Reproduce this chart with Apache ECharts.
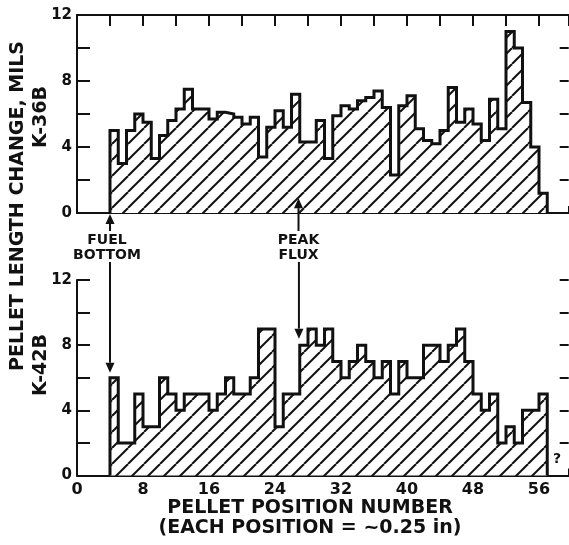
<!DOCTYPE html>
<html><head><meta charset="utf-8">
<script src="https://cdn.jsdelivr.net/npm/echarts@6/dist/echarts.min.js"></script>
<style>html,body{margin:0;padding:0;background:#fff}#c{width:569px;height:545px}</style>
</head><body><div id="c"></div>
<script>
// ---- data ----
const firstPosition = 4;
const k36b = [5.0,3.0,5.0,6.0,5.5,3.3,4.7,5.6,6.3,7.5,6.3,6.3,5.7,6.1,6.0,5.8,5.4,5.8,3.4,5.2,6.2,5.2,7.2,4.3,4.3,5.6,3.3,5.9,6.5,6.3,6.8,7.0,7.4,6.4,2.3,6.5,7.1,5.1,4.4,4.2,5.0,7.6,5.5,6.3,5.4,4.4,6.9,5.1,11.0,10.0,6.7,4.0,1.2];
const k42b = [6,2,2,5,3,3,6,5,4,5,5,5,4,5,6,5,5,6,9,9,3,5,5,8,9,8,9,7,6,7,8,7,6,7,5,7,6,6,8,8,7,8,9,7,5,4,5,2,3,2,4,4,5];
const xTickLabels = [0,8,16,24,32,40,48,56];
const yTickLabels = [0,4,8,12];
const fuelBottomPosition = 4;
const peakFluxPosition = 27;

// ---- helpers ----
function stepPoints(vals){
  const pts = [[firstPosition, 0]];
  vals.forEach((v,i)=>pts.push([firstPosition+i, v]));
  pts.push([firstPosition+vals.length, 0]);
  return pts;
}
function hatchCanvas(){
  const s = 16, c = document.createElement('canvas');
  c.width = s; c.height = s;
  const g = c.getContext('2d');
  g.fillStyle = '#fff'; g.fillRect(0,0,s,s);
  g.strokeStyle = '#111'; g.lineWidth = 2;
  [-s,0,s].forEach(o=>{ g.beginPath(); g.moveTo(o, s); g.lineTo(o+s, 0); g.stroke(); });
  return c;
}
const hatch = {image: hatchCanvas(), repeat: 'repeat'};
const FONT = '"DejaVu Sans", "Liberation Sans", sans-serif';
const black = '#111';

const chart = echarts.init(document.getElementById('c'));
const XMAX = 59.6;
function xAxisBase(grid, pos, showLabel){
  return {
    type:'value', gridIndex:grid, position:pos, min:0, max:XMAX, interval:4,
    axisLine:{show:true, onZero:false, lineStyle:{color:black, width:2}},
    axisTick:{show:true, inside:true, length: pos==='top'?11:7, lineStyle:{color:black, width:2}},
    axisLabel:{show:showLabel, color:black, fontFamily:FONT, fontWeight:'bold', fontSize:16, margin:6,
      formatter: v => xTickLabels.includes(v) ? String(v) : ''},
    splitLine:{show:false}
  };
}
function yAxisBase(grid, pos){
  const left = pos==='left';
  return {
    type:'value', gridIndex:grid, position:pos, min:0, max:12, interval:2,
    axisLine:{show:left, onZero:false, lineStyle:{color:black, width:2}},
    axisTick:{show:true, inside:true, length: left?13:9, lineStyle:{color:black, width:2}},
    axisLabel:{show:left, color:black, fontFamily:FONT, fontWeight:'bold', fontSize:15, margin:5,
      formatter: v => yTickLabels.includes(v) ? String(v) : ''},
    splitLine:{show:false}
  };
}
function seriesFor(vals, xi, yi){
  return {
    type:'line', xAxisIndex:xi, yAxisIndex:yi, data: stepPoints(vals), step:'end',
    symbol:'none', clip:false, animation:false,
    lineStyle:{color:black, width:3, join:'miter'},
    areaStyle:{color:hatch, opacity:1}
  };
}
const option = {
  backgroundColor:'#fff',
  animation:false,
  grid:[
    {left:77, top:15, width:XMAX*8.25, height:198, outerBoundsMode:'none', containLabel:false},
    {left:77, top:280, width:XMAX*8.25, height:195.5, outerBoundsMode:'none', containLabel:false}
  ],
  xAxis:[ xAxisBase(0,'bottom',false), xAxisBase(0,'top',false), xAxisBase(1,'bottom',true) ],
  yAxis:[ yAxisBase(0,'left'), yAxisBase(0,'right'), yAxisBase(1,'left'), yAxisBase(1,'right') ],
  series:[ seriesFor(k36b,0,0), seriesFor(k42b,2,2) ]
};
chart.setOption(option);

// ---- annotations (positions via the chart's own scales) ----
const px = (g, x, y) => chart.convertToPixel({gridIndex:g}, [x, y]);
function arrow(from, to){
  const dx = to[0]-from[0], dy = to[1]-from[1], L = Math.hypot(dx,dy), ux = dx/L, uy = dy/L;
  const hl = 10, hw = 4.5;
  const bx = to[0]-ux*hl, by = to[1]-uy*hl;
  return [
    {type:'line', shape:{x1:from[0], y1:from[1], x2:bx, y2:by}, style:{stroke:black, lineWidth:2}, z:100},
    {type:'polygon', shape:{points:[[to[0],to[1]],[bx-uy*hw, by+ux*hw],[bx+uy*hw, by-ux*hw]]}, style:{fill:black}, z:100}
  ];
}
const g = [];
const fb0 = px(0, fuelBottomPosition, 0), fb1 = px(1, fuelBottomPosition, 0);
g.push(...arrow([fb0[0], 231], [fb0[0], fb0[1]+1]));
g.push(...arrow([fb1[0], 262], [fb1[0], px(1, fuelBottomPosition, 6.3)[1]]));
const pf0 = px(0, peakFluxPosition-0.15, 0.9), pf1 = px(1, peakFluxPosition-0.1, 8.4);
g.push(...arrow([pf0[0], 231], [pf0[0], pf0[1]]));
g.push(...arrow([pf1[0], 262], [pf1[0], pf1[1]]));
const txt = (x,y,t,size,rot) => ({type:'text', x, y, rotation:rot||0, z:100,
  style:{text:t, fill:black, font:'bold '+size+'px '+FONT, textAlign:'center', textVerticalAlign:'middle'}});
g.push(txt(fb0[0]-3, 240, 'FUEL', 14), txt(fb0[0]-3, 255, 'BOTTOM', 14));
g.push(txt(pf0[0], 240, 'PEAK', 14), txt(pf0[0], 255, 'FLUX', 14));
g.push(txt(18, 206, 'PELLET LENGTH CHANGE, MILS', 19, Math.PI/2));
g.push(txt(41, 117, 'K-36B', 19, Math.PI/2));
g.push(txt(41, 365, 'K-42B', 19, Math.PI/2));
g.push(txt(310, 508, 'PELLET POSITION NUMBER', 19));
g.push(txt(310, 528, '(EACH POSITION = ~0.25 in)', 19));
const q = px(1, 58.2, 1.0);
g.push(txt(q[0], q[1], '?', 14));
chart.setOption({graphic:{elements:g}});
</script></body></html>
